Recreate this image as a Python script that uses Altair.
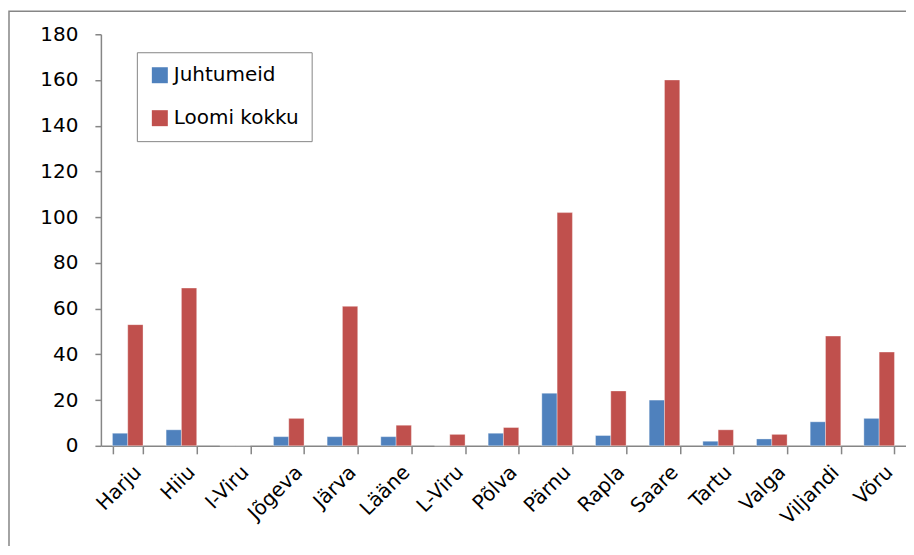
import altair as alt
import pandas as pd

regions = ["Harju", "Hiiu", "I-Viru", "Jõgeva", "Järva", "Lääne", "L-Viru", "Põlva",
           "Pärnu", "Rapla", "Saare", "Tartu", "Valga", "Viljandi", "Võru"]
juhtumeid = [5.5, 7, 0, 4, 4, 4, 0, 5.5, 23, 4.5, 20, 2, 3, 10.5, 12]
loomi_kokku = [53, 69, 0, 12, 61, 9, 5, 8, 102, 24, 160, 7, 5, 48, 41]
series = ["Juhtumeid", "Loomi kokku"]
colors = ["#4F81BD", "#C0504D"]
y_ticks = [0, 20, 40, 60, 80, 100, 120, 140, 160, 180]

rows = []
for r, a, b in zip(regions, juhtumeid, loomi_kokku):
    rows.append({"region": r, "series": series[0], "value": a})
    rows.append({"region": r, "series": series[1], "value": b})
df = pd.DataFrame(rows)

W, H = 806, 412
FONT = "DejaVu Sans"
GREY = "#868686"

bars = alt.Chart(df).mark_bar(stroke="#ffffff", strokeOpacity=0.35, strokeWidth=1).encode(
    x=alt.X("region:N", sort=regions, title=None,
            scale=alt.Scale(paddingInner=0.43, paddingOuter=0.215),
            axis=alt.Axis(labelAngle=-45, labelAlign="right", labelBaseline="top",
                          labelFontSize=20, labelFont=FONT, labelColor="#000000",
                          labelPadding=8, labelOffset=3, tickBand="extent", tickSize=8,
                          tickColor=GREY, tickWidth=1.5, domainColor=GREY,
                          domainWidth=1.5, grid=False)),
    xOffset=alt.XOffset("series:N", sort=series, scale=alt.Scale(paddingInner=0, paddingOuter=0)),
    y=alt.Y("value:Q", title=None,
            scale=alt.Scale(domain=[0, 180], nice=False),
            axis=alt.Axis(values=y_ticks, labelFontSize=20, labelFont=FONT,
                          labelColor="#000000", labelPadding=17, tickSize=6,
                          tickColor=GREY, tickWidth=1.5, domainColor=GREY,
                          domainWidth=1.5, grid=False)),
    color=alt.Color("series:N", sort=series,
                    scale=alt.Scale(domain=series, range=colors),
                    legend=alt.Legend(title=None, orient="none", legendX=36, legendY=18,
                                      symbolType="square", symbolSize=256,
                                      symbolStrokeWidth=0, labelFontSize=20,
                                      labelFont=FONT, labelColor="#000000",
                                      rowPadding=23, padding=13, fillColor="#ffffff",
                                      strokeColor=GREY, labelOffset=4)),
)

border = alt.Chart(pd.DataFrame({"k": [0]})).mark_rect(
    fill=None, stroke=GREY, strokeWidth=1.5).encode(
    x=alt.value(-92), x2=alt.value(W + 60),
    y=alt.value(-23), y2=alt.value(H + 150))

chart = alt.layer(border, bars).properties(
    width=W, height=H,
    autosize=alt.AutoSizeParams(type="none"),
    padding={"left": 93, "top": 26, "right": 0, "bottom": 100},
).configure_view(stroke=None)

chart.save("out.html", embed_options={"renderer": "svg", "actions": False})
